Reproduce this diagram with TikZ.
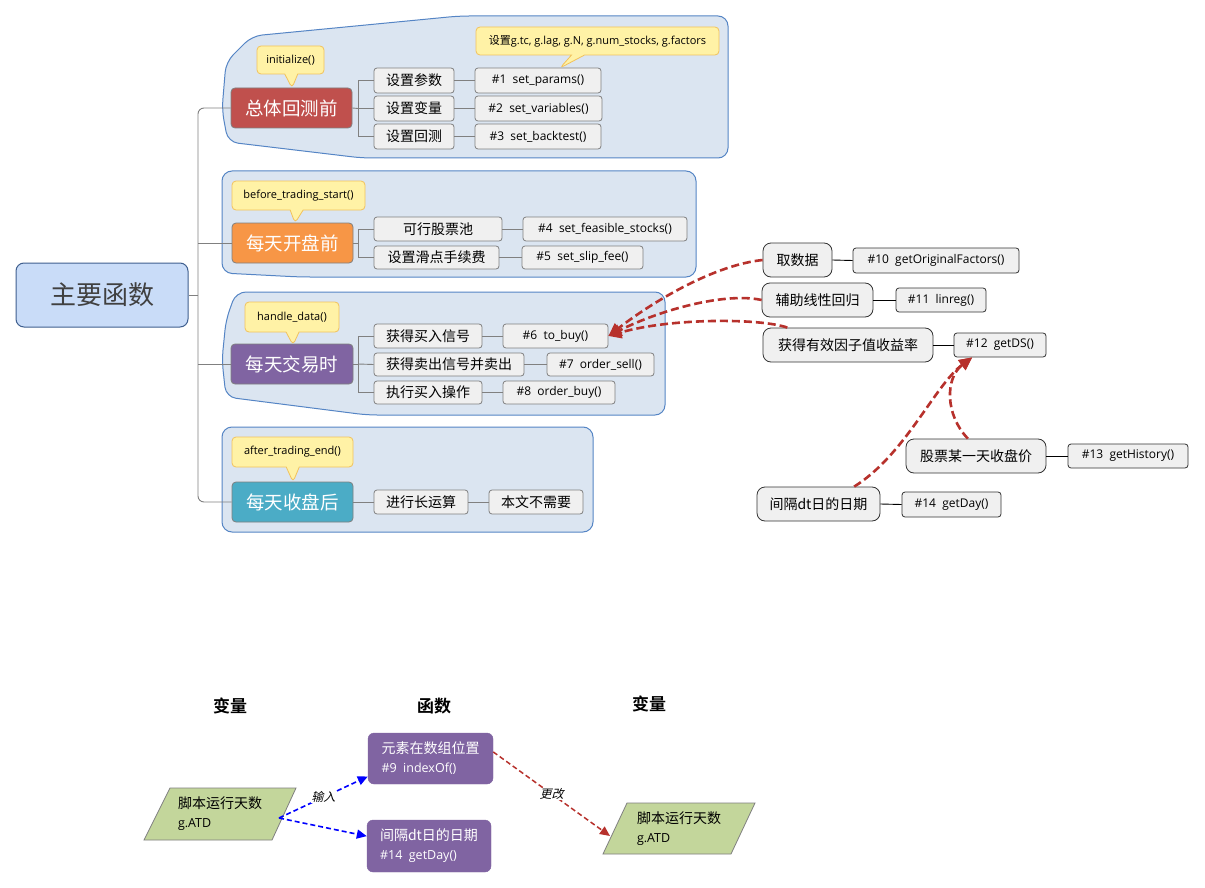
\documentclass[tikz,border=0pt]{standalone}
\usepackage{fontspec}
\setmainfont{Open Sans}
\newfontfamily\cjk{Noto Sans CJK SC}
\newfontfamily\cjkb{Noto Sans CJK SC Bold}
\newfontfamily\cjkit[FakeSlant=0.25]{Noto Sans CJK SC}
\usetikzlibrary{shapes.callouts,arrows.meta}
\definecolor{grpfill}{HTML}{DBE5F1}
\definecolor{grpdraw}{HTML}{5585C5}
\definecolor{callfill}{HTML}{FFF2A6}
\definecolor{calldraw}{HTML}{F2C25B}
\definecolor{subfill}{HTML}{F0F0F0}
\definecolor{subdraw}{HTML}{7F7F7F}
\definecolor{mred}{HTML}{C0504D}
\definecolor{morange}{HTML}{F79646}
\definecolor{mpurple}{HTML}{8064A2}
\definecolor{mteal}{HTML}{4BACC6}
\definecolor{rootfill}{HTML}{C9DCF8}
\definecolor{rootdraw}{HTML}{3F5F8F}
\definecolor{arrred}{HTML}{B7312C}
\definecolor{pgreen}{HTML}{C3D69B}
\definecolor{linegray}{HTML}{808080}
\tikzset{
  grp/.style={fill=grpfill,draw=grpdraw,line width=1pt,rounded corners=10pt},
  callbox/.style={rectangle callout,fill=callfill,draw=calldraw,line width=0.8pt,rounded corners=4pt,inner sep=0pt,callout pointer width=13pt,font=\fontsize{11}{13}\selectfont},
  mainn/.style={draw=subdraw,line width=0.8pt,rounded corners=4pt,text=white,inner sep=0pt,minimum width=121pt,minimum height=40pt,font=\cjk\fontsize{18.5}{20}\selectfont},
  subn/.style={fill=subfill,draw=subdraw,line width=0.8pt,rounded corners=3pt,inner sep=0pt,font=\cjk\fontsize{14}{16}\selectfont},
  coden/.style={fill=subfill,draw=subdraw,line width=0.8pt,rounded corners=3pt,inner sep=0pt,font=\fontsize{12}{14}\selectfont},
  rbox/.style={fill=subfill,draw=black!80,line width=0.8pt,rounded corners=8pt,inner sep=0pt,minimum height=34pt,font=\cjk\fontsize{14}{16}\selectfont},
  rcode/.style={fill=subfill,draw=black!80,line width=0.8pt,rounded corners=3pt,inner sep=0pt,font=\fontsize{12}{14}\selectfont},
  tl/.style={draw=linegray,line width=0.9pt},
  rl/.style={draw=black,line width=0.9pt},
  redarr/.style={draw=arrred,line width=2.6pt,dash pattern=on 8pt off 4pt,-{Triangle[length=13pt,width=12pt]}},
  hdr/.style={font=\cjkb\fontsize{17}{20}\selectfont},
  fbox/.style={fill=mpurple,draw=mpurple,rounded corners=6pt,text=white,inner sep=0pt,align=left,font=\fontsize{12.5}{19}\selectfont},
  pshape/.style={fill=pgreen,draw=subdraw,line width=0.8pt},
  ptext/.style={inner sep=0pt,align=left,font=\fontsize{12.5}{19}\selectfont},
  bluearr/.style={draw=blue,line width=1.6pt,dash pattern=on 5pt off 3pt,-{Triangle[length=10pt,width=9pt]}},
  redthin/.style={draw=arrred,line width=1.5pt,dash pattern=on 5pt off 3pt,-{Triangle[length=10pt,width=9pt]}},
  lbl/.style={fill=white,inner sep=0.5pt,font=\cjkit\fontsize{12}{14}\selectfont}
}
\begin{document}
\begin{tikzpicture}[x=1pt,y=-1pt]
\useasboundingbox (0,0) rectangle (1205,888);
\fill[white] (0,0) rectangle (1205,888);

% group outlines
\path[grp] (459,16) -- (728,16) -- (728,158) -- (362,158) -- (228,142) -- (222,110) -- (226,62) -- (252,36) -- cycle;
\path[grp] (222,171) -- (696,171) -- (696,277) -- (300,277) -- (222,273) -- cycle;
\path[grp] (236,292) -- (665,292) -- (665,415) -- (367,415) -- (226,397) -- (222,360) -- (226,320) -- cycle;
\path[grp] (222,427) rectangle (593,532);

% root
\node[fill=rootfill,draw=rootdraw,line width=1pt,rounded corners=8pt,inner sep=0pt,minimum width=172pt,minimum height=64pt,text=black!75,font=\cjk\fontsize{26}{28}\selectfont] (root) at (102,295) {主要函数};

% main nodes
\node[mainn,fill=mred] (m1) at (291.5,108) {总体回测前};
\node[mainn,fill=morange] (m2) at (292.5,243) {每天开盘前};
\node[mainn,fill=mpurple,minimum width=122pt] (m3) at (292,364) {每天交易时};
\node[mainn,fill=mteal] (m4) at (292.5,502) {每天收盘后};

% tree lines
\coordinate (trunk) at (198,295);
\draw[tl] (root.east) -- (trunk);
\draw[tl,rounded corners=6pt] (m1.west) -| (trunk);
\draw[tl,rounded corners=6pt] (m4.west) -| (trunk);
\draw[tl] (m2.west) -- (m2.west -| trunk);
\draw[tl] (m3.west) -- (m3.west -| trunk);

% group 1
\node[subn,minimum width=80pt,minimum height=25pt] (s11) at (414,80.5) {设置参数};
\node[subn,minimum width=80pt,minimum height=25pt] (s12) at (414,108.5) {设置变量};
\node[subn,minimum width=80pt,minimum height=25pt] (s13) at (414,136.5) {设置回测};
\node[coden,minimum width=126pt,minimum height=25pt] (c11) at (538,80.5) {\#1~~set\_params()};
\node[coden,minimum width=127pt,minimum height=25pt] (c12) at (538.5,108.5) {\#2~~set\_variables()};
\node[coden,minimum width=126pt,minimum height=25pt] (c13) at (538,136.5) {\#3~~set\_backtest()};
\coordinate (j1) at (358,108.5);
\draw[tl] (m1.east) -- (j1);
\draw[tl] (s11.west) -| (j1);
\draw[tl] (s13.west) -| (j1);
\draw[tl] (s12.west) -- (j1);
\draw[tl] (s11.east) -- (c11.west);
\draw[tl] (s12.east) -- (c12.west);
\draw[tl] (s13.east) -- (c13.west);
\node[callbox,minimum width=67pt,minimum height=28pt,callout absolute pointer={(292,88)}] (k1) at (290.5,60) {initialize()};
\node[callbox,minimum width=243pt,minimum height=28pt,callout absolute pointer={(560,68)}] (k2) at (597.5,41) {{\cjk 设置}g.tc, g.lag, g.N, g.num\_stocks, g.factors};

% group 2
\node[subn,minimum width=128pt,minimum height=24pt] (s21) at (438,229) {可行股票池};
\node[subn,minimum width=125pt,minimum height=23pt] (s22) at (436.5,257.5) {设置滑点手续费};
\node[coden,minimum width=164pt,minimum height=24pt] (c21) at (605,229) {\#4~~set\_feasible\_stocks()};
\node[coden,minimum width=121pt,minimum height=23pt] (c22) at (582.5,257.5) {\#5~~set\_slip\_fee()};
\coordinate (j2) at (358,243);
\draw[tl] (m2.east) -- (j2);
\draw[tl] (s21.west) -| (j2);
\draw[tl] (s22.west) -| (j2);
\draw[tl] (s21.east) -- (c21.west);
\draw[tl] (s22.east) -- (c22.west);
\node[callbox,minimum width=133pt,minimum height=29pt,callout absolute pointer={(295,223)}] (k3) at (298.5,195.5) {before\_trading\_start()};

% group 3
\node[subn,minimum width=108pt,minimum height=24pt] (s31) at (428,336) {获得买入信号};
\node[subn,minimum width=150pt,minimum height=23pt] (s32) at (449,364.5) {获得卖出信号并卖出};
\node[subn,minimum width=108pt,minimum height=23pt] (s33) at (428,392.5) {执行买入操作};
\node[coden,minimum width=105pt,minimum height=24pt] (c31) at (555.5,336) {\#6~~to\_buy()};
\node[coden,minimum width=107pt,minimum height=23pt] (c32) at (600.5,364.5) {\#7~~order\_sell()};
\node[coden,minimum width=112pt,minimum height=23pt] (c33) at (559,392.5) {\#8~~order\_buy()};
\coordinate (j3) at (358,364);
\draw[tl] (m3.east) -- (j3);
\draw[tl] (s31.west) -| (j3);
\draw[tl] (s33.west) -| (j3);
\draw[tl] (s32.west) -- (j3);
\draw[tl] (s31.east) -- (c31.west);
\draw[tl] (s32.east) -- (c32.west);
\draw[tl] (s33.east) -- (c33.west);
\node[callbox,minimum width=94pt,minimum height=30pt,callout absolute pointer={(293,345)}] (k4) at (292,317) {handle\_data()};

% group 4
\node[subn,minimum width=94pt,minimum height=24pt] (s41) at (421,502) {进行长运算};
\node[subn,minimum width=94pt,minimum height=24pt] (c41) at (536,502) {本文不需要};
\draw[tl] (m4.east) -- (s41.west);
\draw[tl] (s41.east) -- (c41.west);
\node[callbox,minimum width=121pt,minimum height=30pt,callout absolute pointer={(293,482)}] (k5) at (292.5,452) {after\_trading\_end()};

% right cluster
\node[rbox,minimum width=69pt] (r1) at (797.5,260) {取数据};
\node[rcode,minimum width=166pt,minimum height=25pt] (rc1) at (936,260.5) {\#10~~getOriginalFactors()};
\node[rbox,minimum width=111pt] (r2) at (817.5,300) {辅助线性回归};
\node[rcode,minimum width=90pt,minimum height=24pt] (rc2) at (941,300) {\#11~~linreg()};
\node[rbox,minimum width=170pt] (r3) at (848,345) {获得有效因子值收益率};
\node[rcode,minimum width=92pt,minimum height=24pt] (rc3) at (1000,345) {\#12~~getDS()};
\node[rbox,minimum width=140pt] (r4) at (976,456) {股票某一天收盘价};
\node[rcode,minimum width=120pt,minimum height=24pt] (rc4) at (1128,456) {\#13~~getHistory()};
\node[rbox,minimum width=123pt] (r5) at (818.5,504) {间隔dt日的日期};
\node[rcode,minimum width=99pt,minimum height=25pt] (rc5) at (951.5,504.5) {\#14~~getDay()};
\draw[rl] (r1.east) -- (rc1.west);
\draw[rl] (r2.east) -- (rc2.west);
\draw[rl] (r3.east) -- (rc3.west);
\draw[rl] (r4.east) -- (rc4.west);
\draw[rl] (r5.east) -- (rc5.west);

% red arrows
\draw[redarr] (r1.west) .. controls (715,265) and (655,300) .. (c31.east);
\draw[redarr] (r2.west) .. controls (725,292) and (660,310) .. (c31.east);
\draw[redarr] (r3.164) .. controls (760,318) and (670,318) .. (c31.east);
\draw[redarr] (r5.26) .. controls (905,455) and (935,385) .. (rc3.204);
\draw[redarr] (r4.115) .. controls (945,415) and (945,378) .. (rc3.204);

% bottom section
\node[hdr] (h1) at (230,706) {变量};
\node[hdr] (h2) at (434,706) {函数};
\node[hdr] (h3) at (649,704) {变量};

\path[pshape] (170,788) -- (296,788) -- (272,840) -- (144,840) -- cycle;
\node[ptext] (p1) at (220,814) {{\cjk\fontsize{14}{19}\selectfont 脚本运行天数}\\g.ATD};
\path[pshape] (627,803) -- (755,803) -- (731,854) -- (603,854) -- cycle;
\node[ptext] (p2) at (679,828.5) {{\cjk\fontsize{14}{19}\selectfont 脚本运行天数}\\g.ATD};

\node[fbox,minimum width=125pt,minimum height=51pt] (f1) at (430.5,758.5) {{\cjk\fontsize{14}{19}\selectfont 元素在数组位置}\\\#9~~indexOf()};
\node[fbox,minimum width=124pt,minimum height=52pt] (f2) at (429,846) {{\cjk\fontsize{14}{19}\selectfont 间隔dt日的日期}\\\#14~~getDay()};

\coordinate (p1out) at (279,818);
\coordinate (p2in) at (610,836);
\draw[bluearr] (p1out) -- node[lbl] {输入} (f1.196);
\draw[bluearr] (p1out) -- (f2.171);
\draw[redthin] (f1.6) -- node[lbl] {更改} (p2in);
\end{tikzpicture}
\end{document}
